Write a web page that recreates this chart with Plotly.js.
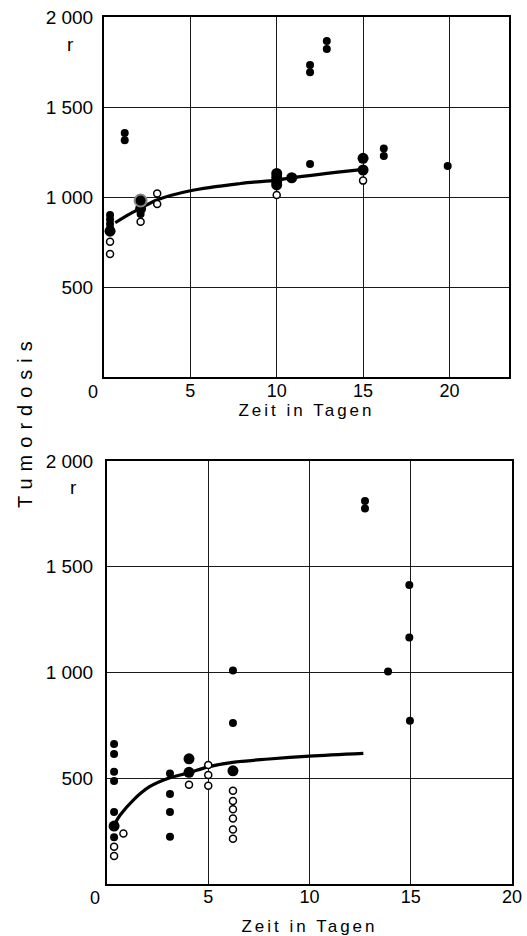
<!DOCTYPE html>
<html>
<head>
<meta charset="utf-8">
<script src="https://cdn.plot.ly/plotly-3.0.1.min.js"></script>
<style>
html,body{margin:0;padding:0;background:#fff;}
#chart{width:527px;height:936px;}
</style>
</head>
<body>
<div id="chart"></div>
<script>
// ---------- Top panel data ----------
const topSmallX = [0.35, 0.35, 0.35, 0.35, 1.2, 1.2, 2.12, 11.93, 11.93, 11.93, 12.9, 12.9, 16.2, 16.2, 19.9];
const topSmallY = [900, 875, 850, 825, 1355, 1315, 905, 1183, 1733, 1693, 1867, 1822, 1270, 1228, 1172];
const topBigX = [0.35, 2.12, 10.0, 10.0, 10.0, 10.0, 10.87, 15.0, 15.0];
const topBigY = [810, 935, 1131, 1109, 1085, 1067, 1107, 1215, 1150];
const topRimX = [2.12];
const topRimY = [980];
const topOpenX = [0.35, 0.35, 2.12, 3.08, 3.08, 10.0, 15.0];
const topOpenY = [752, 683, 863, 1020, 961, 1011, 1091];
const topCurveX = [0.65, 1.2, 2.1, 3.1, 5.0, 7.9, 10.0, 10.9, 15.0];
const topCurveY = [857, 890, 937, 985, 1035, 1075, 1094, 1107, 1153];

// ---------- Bottom panel data ----------
const botSmallX = [0.35, 0.35, 0.35, 0.35, 0.35, 0.35, 3.11, 3.11, 3.11, 3.11, 6.22, 6.22, 12.74, 12.74, 13.88, 14.93, 14.93, 14.96];
const botSmallY = [662, 615, 531, 487, 341, 221, 523, 425, 340, 223, 1009, 761, 1811, 1776, 1005, 1414, 1165, 772];
const botBigX = [0.35, 4.05, 4.05, 6.22];
const botBigY = [274, 592, 528, 535];
const botOpenX = [0.35, 0.35, 0.81, 4.05, 5.0, 5.0, 5.0, 6.22, 6.22, 6.22, 6.22, 6.22, 6.22];
const botOpenY = [176, 132, 239, 469, 563, 515, 465, 441, 392, 353, 310, 258, 214];
const botCurveX = [0.4, 0.65, 1.3, 2.1, 3.0, 4.0, 5.0, 6.2, 8.0, 10.0, 12.66];
const botCurveY = [287, 326, 397, 460, 499, 525, 554, 575, 591, 605, 618];

// ---------- Tick labels ----------
const xTickVals = [5, 10, 15, 20];
const xTickText = ['5', '10', '15', '20'];
const yTickVals = [500, 1000, 1500, 2000];
const yTickText = ['500', '1 000', '1 500', '2 000'];

const FONT = 'Liberation Sans, Arial, Helvetica, sans-serif';

function filled(x, y, size, xa, ya, lineColor, lineW) {
  return {x: x, y: y, xaxis: xa, yaxis: ya, type: 'scatter', mode: 'markers', hoverinfo: 'skip',
    marker: {color: '#000', size: size, line: {color: lineColor || '#000', width: lineW || 0}}};
}
function open(x, y, xa, ya) {
  return {x: x, y: y, xaxis: xa, yaxis: ya, type: 'scatter', mode: 'markers', hoverinfo: 'skip',
    marker: {color: '#fff', size: 7, line: {color: '#000', width: 1.5}}};
}
function curve(x, y, xa, ya) {
  return {x: x, y: y, xaxis: xa, yaxis: ya, type: 'scatter', mode: 'lines', hoverinfo: 'skip',
    line: {color: '#000', width: 3.2, shape: 'spline', smoothing: 1.0}};
}

const data = [
  curve(topCurveX, topCurveY, 'x', 'y'),
  open(topOpenX, topOpenY, 'x', 'y'),
  filled(topSmallX, topSmallY, 8, 'x', 'y'),
  filled(topBigX, topBigY, 11, 'x', 'y'),
  filled(topRimX, topRimY, 12, 'x', 'y', '#888', 2),
  curve(botCurveX, botCurveY, 'x2', 'y2'),
  open(botOpenX, botOpenY, 'x2', 'y2'),
  filled(botSmallX, botSmallY, 8, 'x2', 'y2'),
  filled(botBigX, botBigY, 11, 'x2', 'y2')
];

const axCommon = {
  showgrid: true, gridcolor: '#1a1a1a', gridwidth: 1,
  showline: true, mirror: true, linecolor: '#000', linewidth: 2,
  zeroline: false, ticks: '', fixedrange: true,
  tickmode: 'array'
};

const layout = {
  width: 527, height: 936,
  margin: {l: 0, r: 0, t: 0, b: 0},
  paper_bgcolor: '#fff', plot_bgcolor: '#fff',
  showlegend: false,
  font: {family: FONT, color: '#000', size: 18},
  xaxis: Object.assign({}, axCommon, {
    domain: [104/527, 509/527], anchor: 'y', range: [0, 23.45],
    tickvals: xTickVals, ticktext: xTickText, tickfont: {size: 18},
    ticklabelstandoff: -4,
    title: {text: 'Zeit in Tagen', font: {size: 17}, standoff: 0}
  }),
  yaxis: Object.assign({}, axCommon, {
    domain: [1 - 377/936, 1 - 17/936], anchor: 'x', range: [0, 2000],
    tickvals: yTickVals, ticktext: yTickText, tickfont: {size: 19},
    ticklabelstandoff: 5
  }),
  xaxis2: Object.assign({}, axCommon, {
    domain: [107/527, 512/527], anchor: 'y2', range: [0, 20],
    tickvals: xTickVals, ticktext: xTickText, tickfont: {size: 18},
    ticklabelstandoff: -5,
    title: {text: 'Zeit in Tagen', font: {size: 17}, standoff: 23}
  }),
  yaxis2: Object.assign({}, axCommon, {
    domain: [1 - 884/936, 1 - 461/936], anchor: 'x2', range: [0, 2000],
    tickvals: yTickVals, ticktext: yTickText, tickfont: {size: 19},
    ticklabelstandoff: 8
  }),
  annotations: [
    {text: 'Tumordosis', xref: 'paper', yref: 'paper', x: 25/527, y: 1 - 421/936,
     textangle: -90, showarrow: false, font: {size: 20}, xanchor: 'center', yanchor: 'middle'},
    {text: 'r', xref: 'paper', yref: 'paper', x: 70/527, y: 1 - 44/936,
     showarrow: false, font: {size: 19}, xanchor: 'center', yanchor: 'middle'},
    {text: 'r', xref: 'paper', yref: 'paper', x: 73/527, y: 1 - 487/936,
     showarrow: false, font: {size: 19}, xanchor: 'center', yanchor: 'middle'},
    {text: '0', xref: 'paper', yref: 'paper', x: 93/527, y: 1 - 392/936,
     showarrow: false, font: {size: 18}, xanchor: 'center', yanchor: 'middle'},
    {text: '0', xref: 'paper', yref: 'paper', x: 95/527, y: 1 - 898/936,
     showarrow: false, font: {size: 18}, xanchor: 'center', yanchor: 'middle'}
  ]
};

Plotly.newPlot('chart', data, layout, {staticPlot: true, displayModeBar: false}).then(function () {
  document.querySelectorAll('.annotation-text').forEach(function (t) {
    if (t.textContent === 'Tumordosis') t.style.letterSpacing = '7px';
  });
  document.querySelectorAll('.g-xtitle text, .g-x2title text').forEach(function (t) {
    t.style.letterSpacing = '3px';
  });
});
</script>
</body>
</html>
